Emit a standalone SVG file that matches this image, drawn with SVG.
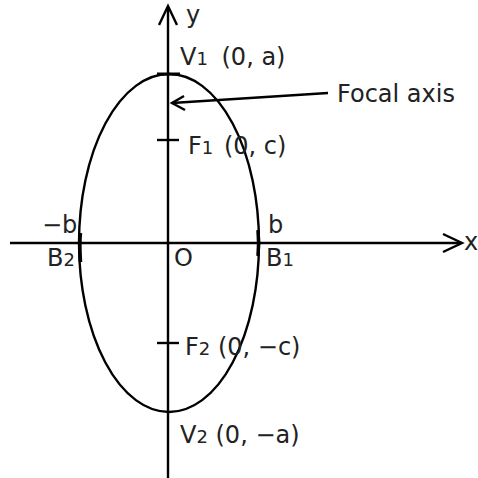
<svg xmlns="http://www.w3.org/2000/svg" width="478" height="478" viewBox="0 0 478 478">
<style>
.ln{fill:none;stroke:#000;stroke-width:2.4}
.tk{fill:none;stroke:#000}
text{font-family:"DejaVu Sans",Verdana,sans-serif;font-size:24px;fill:#222}
.sub{font-size:18px}
</style>
<rect width="478" height="478" fill="#fff"/>
<g id="connectors">
<line class="ln" x1="10" y1="243" x2="461" y2="243"/>
<polyline class="ln" points="443,234 462,243 443,252"/>
<line class="ln" x1="168" y1="478" x2="168" y2="7"/>
<polyline class="ln" points="159,25 168,6 177,25"/>
<line class="ln" x1="328" y1="93" x2="172" y2="103"/>
<polyline class="ln" points="184,96 172,103 185,110"/>
</g>
<g id="ellipse">
<ellipse class="ln" cx="169" cy="243" rx="90" ry="169"/>
<line class="tk" x1="157" y1="74" x2="180" y2="74" stroke-width="3"/>
<path class="tk" d="M80.5,233 Q79.3,243 80.5,262" stroke-width="3.5"/>
<path class="tk" d="M258,230 Q259.2,243 258,256" stroke-width="3.5"/>
<line class="ln" x1="157" y1="140" x2="179" y2="140"/>
<line class="ln" x1="157" y1="343" x2="179" y2="343"/>
</g>
<g id="labels">
<text x="186" y="23">y</text>
<text x="180" y="65">V<tspan class="sub">1</tspan><tspan dx="6"> (0, a)</tspan></text>
<text x="337" y="102">Focal axis</text>
<text x="188" y="154">F<tspan class="sub">1</tspan><tspan dx="3"> (0, c)</tspan></text>
<text x="42" y="233">−b</text>
<text x="268" y="233">b</text>
<text x="464" y="250" font-size="17">x</text>
<text x="47" y="266">B<tspan class="sub">2</tspan></text>
<text x="174" y="266">O</text>
<text x="266" y="266">B<tspan class="sub">1</tspan></text>
<text x="185" y="355">F<tspan class="sub">2</tspan> (0, −c)</text>
<text x="180" y="443">V<tspan class="sub">2</tspan> (0, −a)</text>
</g>
</svg>
